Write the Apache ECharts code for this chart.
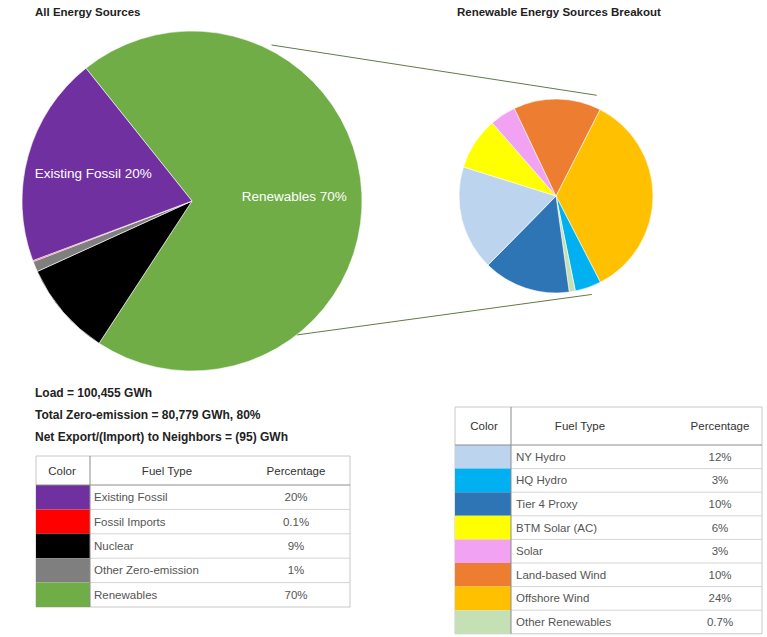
<!DOCTYPE html>
<html><head><meta charset="utf-8">
<script src="https://cdn.jsdelivr.net/npm/echarts@6/dist/echarts.min.js"></script>
<style>html,body{margin:0;padding:0;background:#fff}#c{width:767px;height:637px}</style>
</head><body><div id="c"></div>
<script>
// ---- data ----
const allCategories = ['Existing Fossil', 'Fossil Imports', 'Nuclear', 'Other Zero-emission', 'Renewables'];
const allValues = [20, 0.1, 9, 1, 70];
const allColors = ['#7030a0', '#ff0000', '#000000', '#7f7f7f', '#70ad47'];
const allPieOrder = ['Renewables', 'Nuclear', 'Other Zero-emission', 'Fossil Imports', 'Existing Fossil'];
const allLabelled = ['Existing Fossil', 'Renewables'];

const renCategories = ['NY Hydro', 'HQ Hydro', 'Tier 4 Proxy', 'BTM Solar (AC)', 'Solar', 'Land-based Wind', 'Offshore Wind', 'Other Renewables'];
const renValues = [12, 3, 10, 6, 3, 10, 24, 0.7];
const renColors = ['#bdd4ee', '#00b0f0', '#2e75b6', '#ffff00', '#f2a2f2', '#ed7d31', '#ffc000', '#c5e0b4'];
const renPieOrder = ['Offshore Wind', 'HQ Hydro', 'Other Renewables', 'Tier 4 Proxy', 'NY Hydro', 'BTM Solar (AC)', 'Solar', 'Land-based Wind'];

const titles = ['All Energy Sources', 'Renewable Energy Sources Breakout'];
const infoLines = ['Load = 100,455 GWh', 'Total Zero-emission = 80,779 GWh, 80%', 'Net Export/(Import) to Neighbors = (95) GWh'];
const tableHeaders = ['Color', 'Fuel Type', 'Percentage'];

// ---- layout ----
const FONT = '"Liberation Sans", Arial, sans-serif';
const L = { c: [192, 201], r: 170, start: 128.6 };
const R = { c: [556, 196], r: 97, start: 63 };

function fmtPct(v) { return (v < 1 ? v.toFixed(1) : String(v)) + '%'; }

function pieData(cats, vals, cols, order, labelled, transparent) {
  return order.map(n => {
    const i = cats.indexOf(n);
    return {
      name: n, value: vals[i], itemStyle: { color: transparent ? 'rgba(0,0,0,0)' : cols[i] },
      label: { show: labelled ? labelled.indexOf(n) >= 0 : false }
    };
  });
}

function pt(c, r, deg) {
  const a = deg * Math.PI / 180;
  return [c[0] + r * Math.sin(a), c[1] - r * Math.cos(a)];
}

function buildTable(t, cats, vals, cols) {
  const els = [];
  const n = cats.length;
  const bottom = t.top + t.headH + n * t.rowH;
  els.push({ type: 'rect', shape: { x: t.x0, y: t.top, width: t.x2 - t.x0, height: bottom - t.top },
    style: { fill: '#fff', stroke: '#c8c8c8', lineWidth: 1 }, z: 1 });
  const hx = [t.colorC, t.nameC, t.pctC];
  tableHeaders.forEach((h, k) => {
    els.push({ type: 'text', x: hx[k], y: t.top + t.headH / 2, z: 5,
      style: { text: h, fill: '#333', font: '11.5px ' + FONT, align: 'center', verticalAlign: 'middle' } });
  });
  els.push({ type: 'line', shape: { x1: t.x0, y1: t.top + t.headH, x2: t.x2, y2: t.top + t.headH },
    style: { stroke: '#8c8c8c', lineWidth: 1 }, z: 4 });
  els.push({ type: 'line', shape: { x1: t.x1, y1: t.top, x2: t.x1, y2: bottom },
    style: { stroke: '#8c8c8c', lineWidth: 1 }, z: 4 });
  for (let i = 0; i < n; i++) {
    const y = t.top + t.headH + i * t.rowH;
    els.push({ type: 'rect', shape: { x: t.x0, y: y, width: t.x1 - t.x0, height: t.rowH },
      style: { fill: cols[i] }, z: 3 });
    if (i > 0) {
      els.push({ type: 'line', shape: { x1: t.x1, y1: y, x2: t.x2, y2: y },
        style: { stroke: '#d4d4d4', lineWidth: 1 }, z: 2 });
    }
    els.push({ type: 'text', x: t.nameX, y: y + t.rowH / 2, z: 5,
      style: { text: cats[i], fill: '#555', font: '11.5px ' + FONT, align: 'left', verticalAlign: 'middle' } });
    els.push({ type: 'text', x: t.pctC, y: y + t.rowH / 2, z: 5,
      style: { text: fmtPct(vals[i]), fill: '#555', font: '11.5px ' + FONT, align: 'center', verticalAlign: 'middle' } });
  }
  return els;
}

const leftTable = { x0: 36, x1: 90, x2: 350, top: 456, headH: 29, rowH: 24.4, colorC: 62, nameC: 167, pctC: 296, nameX: 94 };
const rightTable = { x0: 455, x1: 511, x2: 762, top: 407, headH: 38, rowH: 23.6, colorC: 484, nameC: 580, pctC: 720, nameX: 516 };

const graphics = [];
// connector lines
const lt = pt(L.c, L.r * 1.03, 27), lb = pt(L.c, L.r, 142);
const rt = pt(R.c, R.r * 1.12, 22), rb = pt(R.c, R.r * 1.08, 160);
graphics.push({ type: 'line', shape: { x1: lt[0], y1: lt[1], x2: rt[0], y2: rt[1] }, style: { stroke: '#637a45', lineWidth: 1 }, z: 0 });
graphics.push({ type: 'line', shape: { x1: lb[0], y1: lb[1], x2: rb[0], y2: rb[1] }, style: { stroke: '#637a45', lineWidth: 1 }, z: 0 });
// titles
graphics.push({ type: 'text', x: 35, y: 12, style: { text: titles[0], fill: '#222', font: 'bold 11.5px ' + FONT, verticalAlign: 'middle' } });
graphics.push({ type: 'text', x: 457, y: 12, style: { text: titles[1], fill: '#222', font: 'bold 11.5px ' + FONT, verticalAlign: 'middle' } });
// info lines
const infoY = [393, 415, 437];
infoLines.forEach((s, i) => {
  graphics.push({ type: 'text', x: 35, y: infoY[i], style: { text: s, fill: '#222', font: 'bold 12px ' + FONT, verticalAlign: 'middle' } });
});
buildTable(leftTable, allCategories, allValues, allColors).forEach(e => graphics.push(e));
buildTable(rightTable, renCategories, renValues, renColors).forEach(e => graphics.push(e));

const chart = echarts.init(document.getElementById('c'), null, { renderer: 'svg' });
chart.setOption({
  animation: false,
  backgroundColor: '#fff',
  series: [
    {
      type: 'pie', center: L.c, radius: L.r, startAngle: L.start, clockwise: true,
      data: pieData(allCategories, allValues, allColors, allPieOrder, null, false),
      itemStyle: { borderColor: '#fff', borderWidth: 0.6 },
      label: { show: false }, labelLine: { show: false }, emphasis: { disabled: true }, silent: true
    },
    {
      // label carrier for the left pie (transparent slices, labels placed a bit further out)
      type: 'pie', center: L.c, radius: [L.r * 0.17, L.r], startAngle: L.start, clockwise: true,
      data: pieData(allCategories, allValues, allColors, allPieOrder, allLabelled, true),
      label: { position: 'inside', color: '#fff', fontSize: 13.5, fontFamily: FONT,
        formatter: p => p.name + ' ' + fmtPct(p.value) },
      labelLine: { show: false }, emphasis: { disabled: true }, silent: true
    },
    {
      type: 'pie', center: R.c, radius: R.r, startAngle: R.start, clockwise: true,
      data: pieData(renCategories, renValues, renColors, renPieOrder, null, false),
      itemStyle: { borderColor: '#fff', borderWidth: 0.6 },
      label: { show: false }, labelLine: { show: false }, emphasis: { disabled: true }, silent: true
    }
  ],
  graphic: graphics
});
</script></body></html>
